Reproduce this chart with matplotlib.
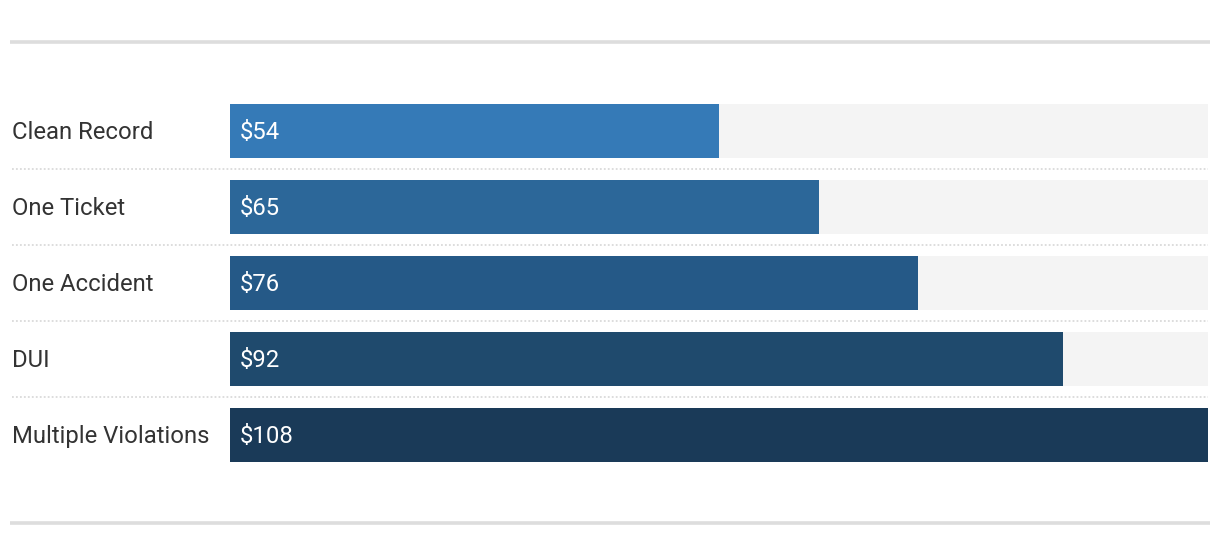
import matplotlib.pyplot as plt
from matplotlib.lines import Line2D
import matplotlib.transforms as mtransforms

plt.rcParams['font.family'] = ['Roboto', 'DejaVu Sans']

categories = ['Clean Record', 'One Ticket', 'One Accident', 'DUI', 'Multiple Violations']
values = [54, 65, 76, 92, 108]
bar_colors = ['#357ab7', '#2c6799', '#255987', '#1f4a6d', '#1a3a58']
track_max = 108

W, H = 1220, 556
fig = plt.figure(figsize=(W / 100, H / 100), dpi=100)

# axes area in pixels: x 230..1208, rows centred at 130.5 + 76*i
left, right = 230 / W, 1208 / W
top_px, bot_px = 92.5, 472.5
ax = fig.add_axes([left, 1 - bot_px / H, right - left, (bot_px - top_px) / H])

y = list(range(len(categories)))
ax.barh(y, [track_max] * len(y), height=54 / 76, color='#f4f4f4', zorder=1)
ax.barh(y, values, height=54 / 76, color=bar_colors, zorder=2)

ax.set_xlim(0, track_max)
ax.set_ylim(len(categories) - 0.5, -0.5)
ax.axis('off')

# labels (nudged down ~2px to sit like the original)
trans_lbl = mtransforms.blended_transform_factory(fig.transFigure, ax.transData)
nudge = 2 / 76
for i, (cat, v) in enumerate(zip(categories, values)):
    ax.text(12 / W, i + nudge, cat, transform=trans_lbl, ha='left', va='center',
            fontsize=17.2, color='#333333')
    ax.text(10 / (right - left) / W * track_max, i + nudge, '$' + str(v), ha='left',
            va='center', fontsize=17.2, color='white', zorder=3)

# dotted separators
for i in range(len(categories) - 1):
    ax.axhline(i + 0.5, xmin=(12 - 230) / 978, xmax=1.0, color='#dadada',
               linestyle=(0, (1, 1.2)), linewidth=1.3, clip_on=False, zorder=0)

# top / bottom rules
for ypx in (42, 523):
    fig.add_artist(Line2D([10 / W, 1210 / W], [1 - ypx / H, 1 - ypx / H],
                          transform=fig.transFigure, color='#dddddd', linewidth=2.6,
                          solid_capstyle='butt'))

fig.savefig('out.png', dpi=100, facecolor='white')
